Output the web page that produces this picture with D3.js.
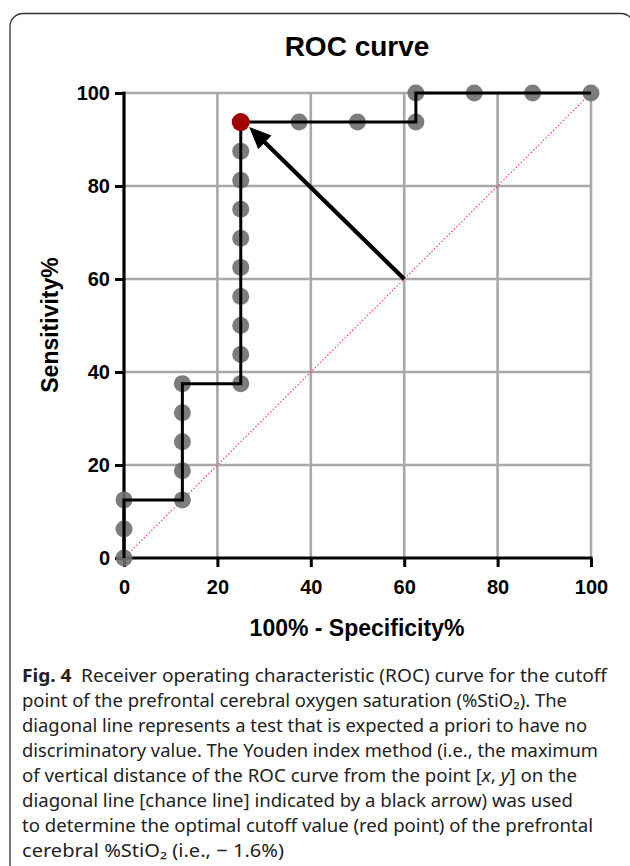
<!DOCTYPE html>
<html><head><meta charset="utf-8">
<script src="https://cdn.jsdelivr.net/npm/d3@7"></script>
<style>body{margin:0;background:#fff}svg{display:block}</style>
</head><body>
<svg id="c" width="630" height="866"></svg>
<script>
// ----- data -----
const rocX = [0,0,0,12.5,12.5,12.5,12.5,12.5,25,25,25,25,25,25,25,25,25,25,37.5,50,62.5,62.5,75,87.5,100];
const rocY = [0,6.25,12.5,12.5,18.75,25,31.25,37.5,37.5,43.75,50,56.25,62.5,68.75,75,81.25,87.5,93.75,93.75,93.75,93.75,100,100,100,100];
const stepX = [0,0,12.5,12.5,25,25,62.5,62.5,100];
const stepY = [0,12.5,12.5,37.5,37.5,93.75,93.75,100,100];
const optimal = [25, 93.75];
const arrowFrom = [60, 60];
const arrowTo = [26.8, 92.7];
const chanceLine = [[0,0],[100,100]];
const xTicks = [0,20,40,60,80,100];
const yTicks = [0,20,40,60,80,100];
const captionLines = [
  [{t:"Fig. 4",b:1},{t:"\u2002Receiver operating characteristic (ROC) curve for the cutoff"}],
  [{t:"point of the prefrontal cerebral oxygen saturation (%StiO\u2082). The"}],
  [{t:"diagonal line represents a test that is expected a priori to have no"}],
  [{t:"discriminatory value. The Youden index method (i.e., the maximum"}],
  [{t:"of vertical distance of the ROC curve from the point ["},{t:"x",i:1},{t:", "},{t:"y",i:1},{t:"] on the"}],
  [{t:"diagonal line [chance line] indicated by a black arrow) was used"}],
  [{t:"to determine the optimal cutoff value (red point) of the prefrontal"}],
  [{t:"cerebral %StiO\u2082 (i.e., \u2212 1.6%)"}]
];
const captionWidths = [585,545,565,576,555,551,571,262];

// ----- drawing -----
const svg = d3.select("#c");
svg.append("rect").attr("x",10).attr("y",13.5).attr("width",624).attr("height",900)
  .attr("rx",13).attr("fill","none").attr("stroke","#333").attr("stroke-width",1.3);

const x = d3.scaleLinear().domain([0,100]).range([124,591]);
const y = d3.scaleLinear().domain([0,100]).range([558,93]);
const g = svg.append("g");
const F = "'Liberation Sans', Arial, sans-serif";

// grid
g.selectAll(".vg").data(xTicks.slice(1)).join("line")
  .attr("x1",d=>x(d)).attr("x2",d=>x(d)).attr("y1",y(0)).attr("y2",y(100))
  .attr("stroke","#a8a8a8").attr("stroke-width",2.6);
g.selectAll(".hg").data(yTicks.slice(1)).join("line")
  .attr("y1",d=>y(d)).attr("y2",d=>y(d)).attr("x1",x(0)).attr("x2",x(100))
  .attr("stroke","#a8a8a8").attr("stroke-width",2.6);

// chance line
g.append("line").attr("x1",x(chanceLine[0][0])).attr("y1",y(chanceLine[0][1]))
  .attr("x2",x(chanceLine[1][0])).attr("y2",y(chanceLine[1][1]))
  .attr("stroke","#ff3b3b").attr("stroke-width",1.1).attr("stroke-dasharray","1.5,2");

// axes
const xa = g.append("g").attr("transform",`translate(0,${y(0)})`)
  .call(d3.axisBottom(x).tickValues(xTicks).tickSize(9).tickPadding(13));
const ya = g.append("g").attr("transform",`translate(${x(0)},0)`)
  .call(d3.axisLeft(y).tickValues(yTicks).tickSize(9).tickPadding(5));
[xa,ya].forEach(a=>{
  a.select(".domain").attr("stroke","#000").attr("stroke-width",3.2);
  a.selectAll(".tick line").attr("stroke","#000").attr("stroke-width",3);
  a.selectAll("text").attr("font-family",F).attr("font-weight","bold").attr("font-size",20).attr("fill","#000");
});
xa.select(".domain").attr("d",`M${x(0)-1.5},0H${x(100)+1.5}`);
ya.select(".domain").attr("d",`M0,${y(0)+1.5}V${y(100)-1.5}`);

// points
g.selectAll(".pt").data(rocX.map((v,i)=>[v,rocY[i]])).join("circle")
  .attr("cx",d=>x(d[0])).attr("cy",d=>y(d[1])).attr("r",8.5)
  .attr("fill","#6e6e6e").attr("fill-opacity",0.9);

// step line
g.append("path").attr("d",d3.line().x(d=>x(d[0])).y(d=>y(d[1]))(stepX.map((v,i)=>[v,stepY[i]])))
  .attr("fill","none").attr("stroke","#000").attr("stroke-width",3);

// optimal point
g.append("circle").attr("cx",x(optimal[0])).attr("cy",y(optimal[1])).attr("r",9).attr("fill","#a30000");

// arrow
const sx=x(arrowFrom[0]), sy=y(arrowFrom[1]), tx=x(arrowTo[0]), ty=y(arrowTo[1]);
const dx=tx-sx, dy=ty-sy, L=Math.hypot(dx,dy), ux=dx/L, uy=dy/L;
const hl=22, hw=9.5;
const bx=tx-ux*hl, by=ty-uy*hl;
g.append("line").attr("x1",sx).attr("y1",sy).attr("x2",bx+ux*2).attr("y2",by+uy*2)
  .attr("stroke","#000").attr("stroke-width",4.2);
g.append("path").attr("d",`M${tx},${ty}L${bx-uy*hw},${by+ux*hw}L${bx+uy*hw},${by-ux*hw}Z`).attr("fill","#000");

// titles
svg.append("text").attr("x",357).attr("y",56).attr("text-anchor","middle")
  .attr("font-family",F).attr("font-weight","bold").attr("font-size",28).text("ROC curve");
svg.append("text").attr("x",357).attr("y",636).attr("text-anchor","middle")
  .attr("font-family",F).attr("font-weight","bold").attr("font-size",23).text("100% - Specificity%");
svg.append("text").attr("transform","translate(58,325) rotate(-90)").attr("text-anchor","middle")
  .attr("font-family",F).attr("font-weight","bold").attr("font-size",23).text("Sensitivity%");

// caption
const CF = "'Noto Sans', 'Open Sans', sans-serif";
captionLines.forEach((line,i)=>{
  const t = svg.append("text").attr("x",22).attr("y",682+i*25)
    .attr("font-family",CF).attr("font-size",18.5).attr("fill","#222")
    .attr("textLength",captionWidths[i]).attr("lengthAdjust","spacingAndGlyphs");
  line.forEach(s=>{
    const ts = t.append("tspan").text(s.t);
    if(s.b) ts.attr("font-weight","bold");
    if(s.i) ts.attr("font-style","italic");
  });
});
</script>
</body></html>
